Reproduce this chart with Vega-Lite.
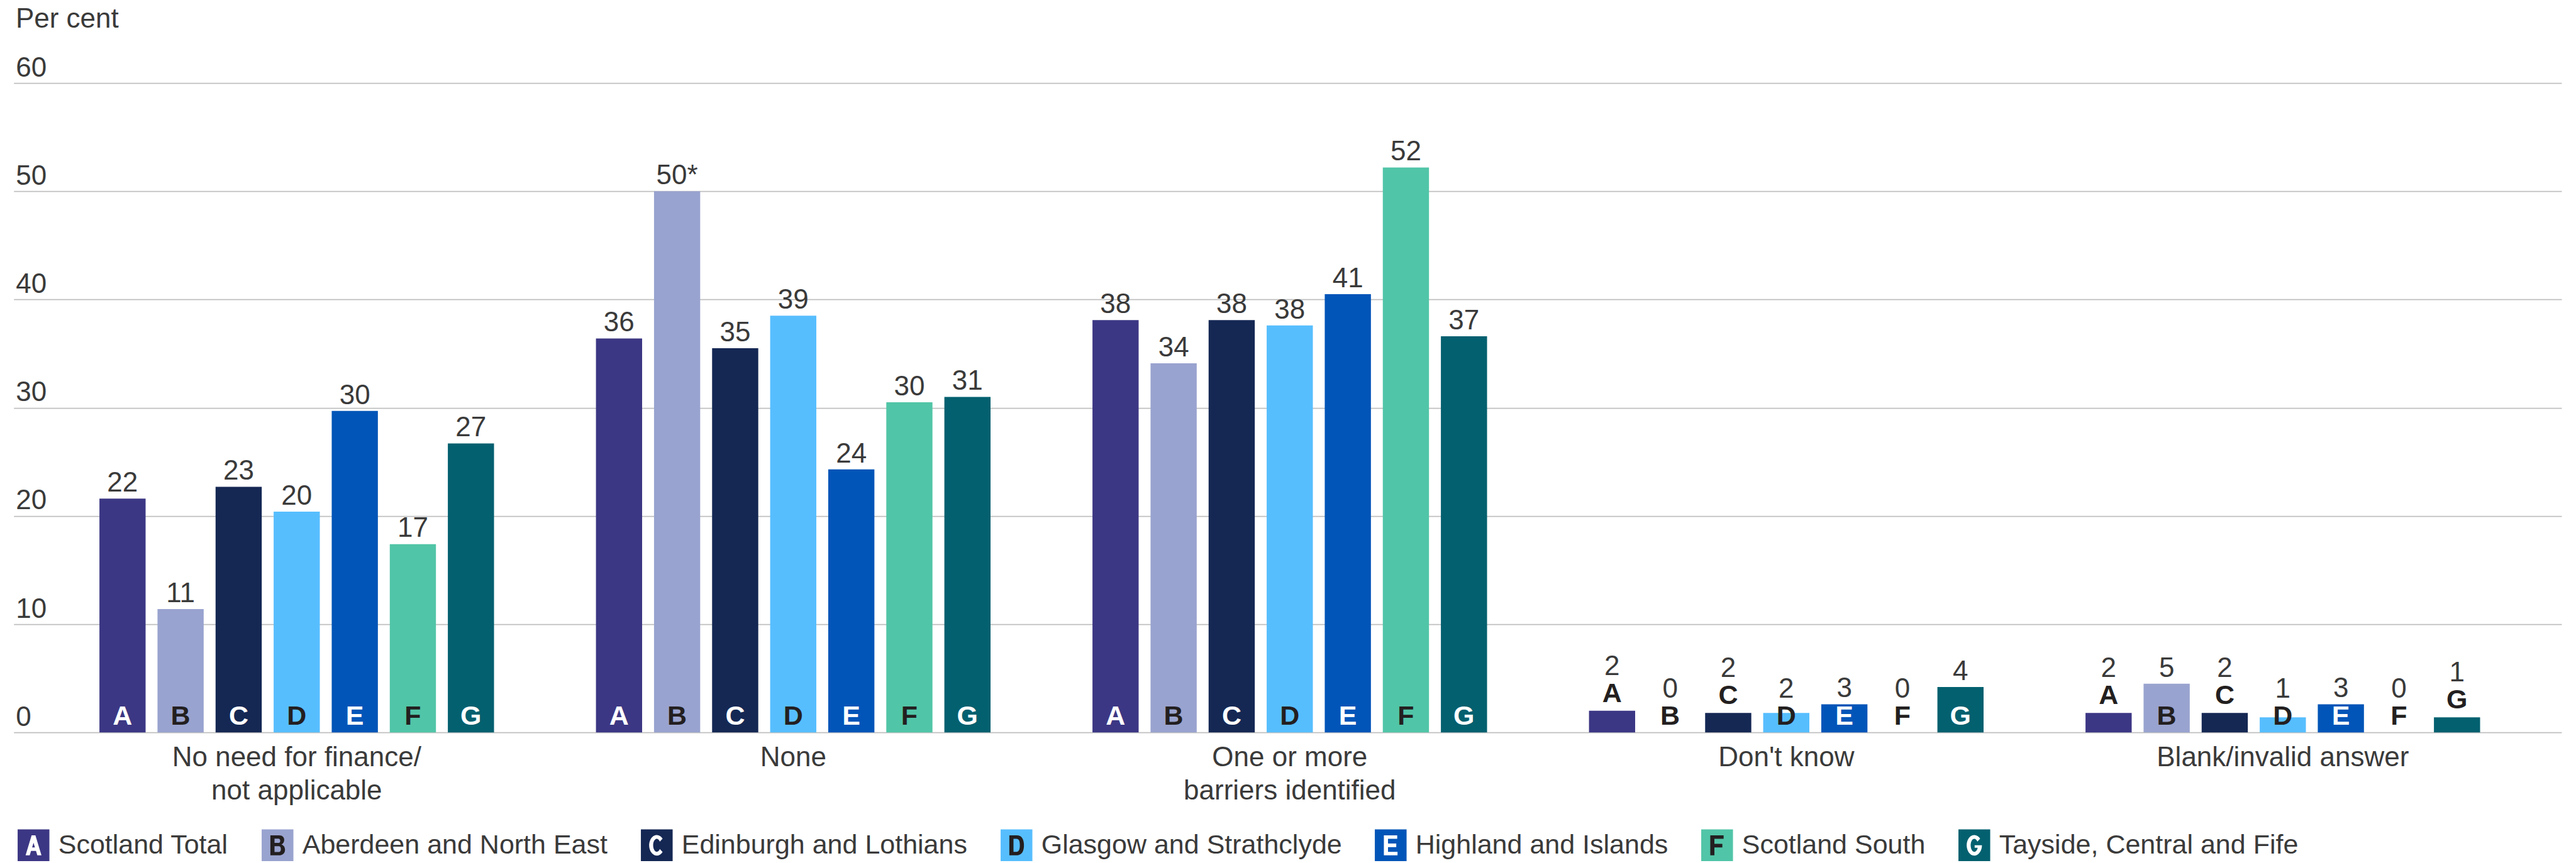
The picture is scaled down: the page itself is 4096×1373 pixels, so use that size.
{
  "$schema": "https://vega.github.io/schema/vega-lite/v6.json",
  "width": 4051.3,
  "height": 1033.2,
  "autosize": {"type": "none"},
  "padding": {"left": 21.7, "top": 132.1, "right": 23, "bottom": 207.7},
  "background": "#ffffff",
  "config": {
    "view": {"stroke": null},
    "font": "Liberation Sans",
    "axis": {"labelFont": "Liberation Sans", "labelFontSize": 44, "labelColor": "#3a3a3a", "titleFont": "Liberation Sans"},
    "legend": {
      "orient": "none", "legendX": 6.1, "legendY": 1187, "direction": "horizontal", "columns": 7,
      "symbolSize": 2550, "symbolStrokeWidth": 0, "symbolOpacity": 1,
      "labelFont": "Liberation Sans", "labelFontSize": 43, "labelColor": "#3a3a3a",
      "labelOffset": 13.9, "columnPadding": 52, "rowPadding": 0, "labelLimit": 2000, "padding": 0
    }
  },
  "data": {"values": [
    {"cat": "No need for finance/not applicable", "region": "Scotland Total", "letter": "A", "value": 21.6, "label": "22"},
    {"cat": "No need for finance/not applicable", "region": "Aberdeen and North East", "letter": "B", "value": 11.4, "label": "11"},
    {"cat": "No need for finance/not applicable", "region": "Edinburgh and Lothians", "letter": "C", "value": 22.7, "label": "23"},
    {"cat": "No need for finance/not applicable", "region": "Glasgow and Strathclyde", "letter": "D", "value": 20.4, "label": "20"},
    {"cat": "No need for finance/not applicable", "region": "Highland and Islands", "letter": "E", "value": 29.7, "label": "30"},
    {"cat": "No need for finance/not applicable", "region": "Scotland South", "letter": "F", "value": 17.4, "label": "17"},
    {"cat": "No need for finance/not applicable", "region": "Tayside, Central and Fife", "letter": "G", "value": 26.7, "label": "27"},
    {"cat": "None", "region": "Scotland Total", "letter": "A", "value": 36.4, "label": "36"},
    {"cat": "None", "region": "Aberdeen and North East", "letter": "B", "value": 50.0, "label": "50*"},
    {"cat": "None", "region": "Edinburgh and Lothians", "letter": "C", "value": 35.5, "label": "35"},
    {"cat": "None", "region": "Glasgow and Strathclyde", "letter": "D", "value": 38.5, "label": "39"},
    {"cat": "None", "region": "Highland and Islands", "letter": "E", "value": 24.3, "label": "24"},
    {"cat": "None", "region": "Scotland South", "letter": "F", "value": 30.5, "label": "30"},
    {"cat": "None", "region": "Tayside, Central and Fife", "letter": "G", "value": 31.0, "label": "31"},
    {"cat": "One or more barriers identified", "region": "Scotland Total", "letter": "A", "value": 38.1, "label": "38"},
    {"cat": "One or more barriers identified", "region": "Aberdeen and North East", "letter": "B", "value": 34.1, "label": "34"},
    {"cat": "One or more barriers identified", "region": "Edinburgh and Lothians", "letter": "C", "value": 38.1, "label": "38"},
    {"cat": "One or more barriers identified", "region": "Glasgow and Strathclyde", "letter": "D", "value": 37.6, "label": "38"},
    {"cat": "One or more barriers identified", "region": "Highland and Islands", "letter": "E", "value": 40.5, "label": "41"},
    {"cat": "One or more barriers identified", "region": "Scotland South", "letter": "F", "value": 52.2, "label": "52"},
    {"cat": "One or more barriers identified", "region": "Tayside, Central and Fife", "letter": "G", "value": 36.6, "label": "37"},
    {"cat": "Don't know", "region": "Scotland Total", "letter": "A", "value": 2.0, "label": "2"},
    {"cat": "Don't know", "region": "Aberdeen and North East", "letter": "B", "value": 0, "label": "0"},
    {"cat": "Don't know", "region": "Edinburgh and Lothians", "letter": "C", "value": 1.8, "label": "2"},
    {"cat": "Don't know", "region": "Glasgow and Strathclyde", "letter": "D", "value": 1.8, "label": "2"},
    {"cat": "Don't know", "region": "Highland and Islands", "letter": "E", "value": 2.6, "label": "3"},
    {"cat": "Don't know", "region": "Scotland South", "letter": "F", "value": 0, "label": "0"},
    {"cat": "Don't know", "region": "Tayside, Central and Fife", "letter": "G", "value": 4.2, "label": "4"},
    {"cat": "Blank/invalid answer", "region": "Scotland Total", "letter": "A", "value": 1.8, "label": "2"},
    {"cat": "Blank/invalid answer", "region": "Aberdeen and North East", "letter": "B", "value": 4.5, "label": "5"},
    {"cat": "Blank/invalid answer", "region": "Edinburgh and Lothians", "letter": "C", "value": 1.8, "label": "2"},
    {"cat": "Blank/invalid answer", "region": "Glasgow and Strathclyde", "letter": "D", "value": 1.4, "label": "1"},
    {"cat": "Blank/invalid answer", "region": "Highland and Islands", "letter": "E", "value": 2.6, "label": "3"},
    {"cat": "Blank/invalid answer", "region": "Scotland South", "letter": "F", "value": 0, "label": "0"},
    {"cat": "Blank/invalid answer", "region": "Tayside, Central and Fife", "letter": "G", "value": 1.4, "label": "1"}
  ]},
  "encoding": {
    "x": {
      "field": "cat", "type": "nominal",
      "scale": {"domain": ["No need for finance/not applicable", "None", "One or more barriers identified", "Don't know", "Blank/invalid answer"], "paddingInner": 0.2053, "paddingOuter": 0.1684, "align": 0.513},
      "axis": {
        "title": null, "domain": false, "ticks": false, "tickSize": 0, "grid": false,
        "labelAngle": 0, "labelPadding": 52.8, "labelBaseline": "alphabetic", "labelLineHeight": 53.3,
        "labelLimit": 2000, "labelOverlap": false, "labelFontSize": 44,
        "labelExpr": "datum.label == 'No need for finance/not applicable' ? ['No need for finance/', 'not applicable'] : datum.label == 'One or more barriers identified' ? ['One or more', 'barriers identified'] : datum.label"
      }
    },
    "xOffset": {
      "field": "region", "type": "nominal",
      "scale": {"domain": ["Scotland Total", "Aberdeen and North East", "Edinburgh and Lothians", "Glasgow and Strathclyde", "Highland and Islands", "Scotland South", "Tayside, Central and Fife"], "paddingInner": 0.205, "paddingOuter": 0}
    },
    "y": {
      "field": "value", "type": "quantitative",
      "scale": {"domain": [0, 60], "nice": false, "zero": true},
      "axis": {
        "title": "Per cent", "titleAngle": 0, "titleAlign": "left", "titleBaseline": "alphabetic",
        "titleX": 2.7, "titleY": -88.6, "titleFontSize": 44, "titleFontWeight": "normal", "titleColor": "#3a3a3a",
        "values": [0, 10, 20, 30, 40, 50, 60], "grid": true, "gridColor": "#bfbfbf", "gridWidth": 1.8,
        "domain": false, "ticks": false, "tickSize": 0,
        "labelAlign": "left", "labelBaseline": "alphabetic", "labelPadding": -3, "labelOffset": -11, "labelFontSize": 44
      }
    }
  },
  "layer": [
    {
      "mark": {"type": "bar"},
      "encoding": {
        "color": {
          "field": "region", "type": "nominal",
          "scale": {"domain": ["Scotland Total", "Aberdeen and North East", "Edinburgh and Lothians", "Glasgow and Strathclyde", "Highland and Islands", "Scotland South", "Tayside, Central and Fife"],
                    "range": ["#3c3784", "#99a3cf", "#152854", "#57befe", "#0255b8", "#51c5a7", "#03606f"]},
          "legend": {"title": null, "symbolType": "square", "zindex": 1}
        }
      }
    },
    {
      "transform": [{"filter": "datum.value >= 2.5"}],
      "mark": {"type": "text", "font": "Liberation Sans", "fontSize": 44, "color": "#3a3a3a", "align": "center", "baseline": "alphabetic", "dy": -11.3},
      "encoding": {"text": {"field": "label"}}
    },
    {
      "transform": [{"filter": "datum.value < 2.5 && indexof(['B','D','F'], datum.letter) >= 0"}],
      "mark": {"type": "text", "font": "Liberation Sans", "fontSize": 44, "color": "#3a3a3a", "align": "center", "baseline": "alphabetic", "dy": -55.6},
      "encoding": {"y": {"datum": 0, "type": "quantitative"}, "text": {"field": "label"}}
    },
    {
      "transform": [{"filter": "datum.value < 2.5 && indexof(['A','C','E','G'], datum.letter) >= 0"}],
      "mark": {"type": "text", "font": "Liberation Sans", "fontSize": 44, "color": "#3a3a3a", "align": "center", "baseline": "alphabetic", "dy": -57},
      "encoding": {"text": {"field": "label"}}
    },
    {
      "transform": [{"filter": "datum.value >= 2.5 || indexof(['B','D','F'], datum.letter) >= 0"}],
      "mark": {"type": "text", "font": "Liberation Sans", "fontSize": 43, "fontWeight": "bold", "align": "center", "baseline": "alphabetic", "dy": -12.5},
      "encoding": {
        "y": {"datum": 0, "type": "quantitative"},
        "text": {"field": "letter"},
        "color": {"condition": {"test": "indexof(['B','D','F'], datum.letter) >= 0", "value": "#231f20"}, "value": "#ffffff"}
      }
    },
    {
      "transform": [{"filter": "datum.value < 2.5 && indexof(['A','C','E','G'], datum.letter) >= 0"}],
      "mark": {"type": "text", "font": "Liberation Sans", "fontSize": 43, "fontWeight": "bold", "color": "#231f20", "align": "center", "baseline": "alphabetic", "dy": -14.3},
      "encoding": {"text": {"field": "letter"}}
    },
    {
      "transform": [{"filter": "datum.value < 0"}],
      "mark": {"type": "point", "filled": true, "strokeWidth": 0},
      "encoding": {
        "shape": {
          "field": "letter", "type": "nominal",
          "scale": {"domain": ["A", "B", "C", "D", "E", "F", "G"],
                    "range": [
                      "M-0.12,-0.63H0.12L0.5,0.63H0.24L0.156,0.35H-0.156L-0.24,0.63H-0.5ZM0,-0.166L-0.089,0.13H0.089Z",
                      "M-0.45,-0.63H0.1C0.32,-0.63 0.42,-0.5 0.42,-0.34C0.42,-0.2 0.35,-0.1 0.24,-0.05C0.39,0 0.47,0.12 0.47,0.28C0.47,0.5 0.32,0.63 0.08,0.63H-0.45ZM-0.19,-0.42V-0.15H0.05C0.13,-0.15 0.17,-0.2 0.17,-0.285C0.17,-0.37 0.13,-0.42 0.05,-0.42ZM-0.19,0.06V0.42H0.07C0.17,0.42 0.21,0.35 0.21,0.24C0.21,0.13 0.17,0.06 0.07,0.06Z",
                      "M0.368,-0.418A0.48,0.65 0 1 0 0.368,0.418L0.19,0.235A0.23,0.41 0 1 1 0.19,-0.235Z",
                      "M-0.45,-0.63H0.02C0.32,-0.63 0.47,-0.4 0.47,0C0.47,0.4 0.32,0.63 0.02,0.63H-0.45ZM-0.19,-0.41V0.41H0C0.15,0.41 0.21,0.27 0.21,0C0.21,-0.27 0.15,-0.41 0,-0.41Z",
                      "M-0.43,-0.63H0.41V-0.41H-0.17V-0.11H0.35V0.11H-0.17V0.41H0.43V0.63H-0.43Z",
                      "M-0.43,-0.63H0.41V-0.41H-0.17V-0.09H0.33V0.13H-0.17V0.63H-0.43Z",
                      "M0.368,-0.418A0.48,0.65 0 1 0 0.48,0H0.02V0.15H0.214A0.23,0.41 0 1 1 0.19,-0.235Z"
                    ]},
          "legend": {"title": null, "zindex": 2, "labelOpacity": 0,
                     "labelExpr": "datum.label == 'A' ? 'Scotland Total' : datum.label == 'B' ? 'Aberdeen and North East' : datum.label == 'C' ? 'Edinburgh and Lothians' : datum.label == 'D' ? 'Glasgow and Strathclyde' : datum.label == 'E' ? 'Highland and Islands' : datum.label == 'F' ? 'Scotland South' : 'Tayside, Central and Fife'"}
        },
        "fill": {
          "field": "letter", "type": "nominal",
          "scale": {"domain": ["A", "B", "C", "D", "E", "F", "G"],
                    "range": ["#ffffff", "#231f20", "#ffffff", "#231f20", "#ffffff", "#231f20", "#ffffff"]},
          "legend": {"title": null, "zindex": 2, "labelOpacity": 0,
                     "labelExpr": "datum.label == 'A' ? 'Scotland Total' : datum.label == 'B' ? 'Aberdeen and North East' : datum.label == 'C' ? 'Edinburgh and Lothians' : datum.label == 'D' ? 'Glasgow and Strathclyde' : datum.label == 'E' ? 'Highland and Islands' : datum.label == 'F' ? 'Scotland South' : 'Tayside, Central and Fife'"}
        }
      }
    }
  ]
}
